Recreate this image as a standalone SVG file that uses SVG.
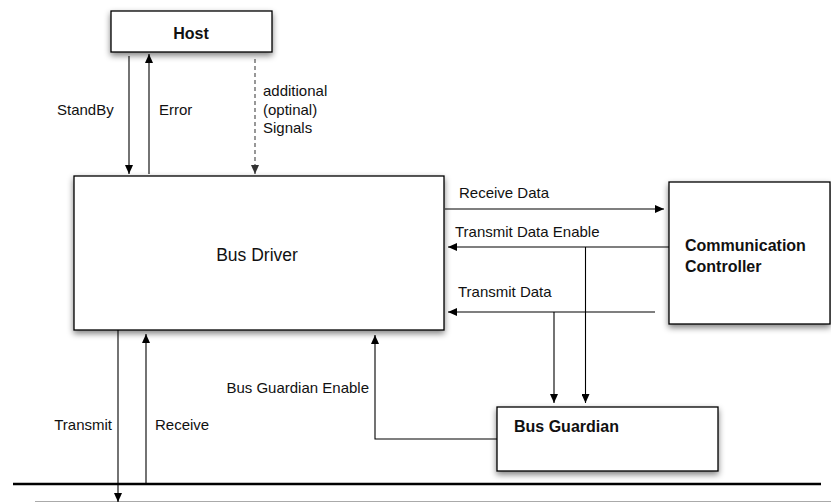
<svg xmlns="http://www.w3.org/2000/svg" width="831" height="502" viewBox="0 0 831 502">
  <style>
    .box { fill: #ffffff; stroke: #000000; stroke-width: 1.3; filter: url(#shadow); }
    .wire { fill: none; stroke: #000000; stroke-width: 1.1; }
    .arrow { marker-end: url(#head); }
    .dashed { fill: none; stroke: #444444; stroke-width: 1.1; stroke-dasharray: 4 3; marker-end: url(#headGray); }
    .lbl { font-family: "Liberation Sans", Arial, Helvetica, sans-serif; font-size: 15px; fill: #111111; }
    .title { font-family: "Liberation Sans", Arial, Helvetica, sans-serif; font-size: 16px; font-weight: bold; fill: #111111; }
    .big { font-family: "Liberation Sans", Arial, Helvetica, sans-serif; font-size: 17.5px; fill: #111111; }
  </style>
  <defs>
    <filter id="shadow" x="-10%" y="-20%" width="120%" height="150%">
      <feGaussianBlur in="SourceAlpha" stdDeviation="3"/>
      <feOffset dx="0" dy="3" result="blur"/>
      <feComponentTransfer><feFuncA type="linear" slope="0.5"/></feComponentTransfer>
      <feMerge><feMergeNode/><feMergeNode in="SourceGraphic"/></feMerge>
    </filter>
    <marker id="head" viewBox="0 0 9 8" refX="9" refY="4" markerWidth="9" markerHeight="8" markerUnits="userSpaceOnUse" orient="auto">
      <path d="M0,0 L9,4 L0,8 z" fill="#000000"/>
    </marker>
    <marker id="headGray" viewBox="0 0 9 8" refX="9" refY="4" markerWidth="9" markerHeight="8" markerUnits="userSpaceOnUse" orient="auto">
      <path d="M0,0 L9,4 L0,8 z" fill="#333333"/>
    </marker>
  </defs>

  <!-- bus cable -->
  <g id="bus">
    <line x1="13" y1="484" x2="821" y2="484" stroke="#000000" stroke-width="2.5"/>
    <line x1="35" y1="501.5" x2="831" y2="501.5" stroke="#aaaaaa" stroke-width="1"/>
  </g>

  <!-- connectors -->
  <g id="connectors">
    <line class="wire arrow" x1="129" y1="56" x2="129" y2="174"/>
    <line class="wire arrow" x1="149" y1="174" x2="149" y2="54"/>
    <line class="dashed" x1="255" y1="59" x2="255" y2="174"/>

    <line class="wire arrow" x1="445" y1="209" x2="664" y2="209"/>
    <line class="wire arrow" x1="669" y1="247" x2="448" y2="247"/>
    <line class="wire arrow" x1="655" y1="312" x2="448" y2="312"/>
    <line class="wire arrow" x1="585.5" y1="247" x2="585.5" y2="403"/>
    <line class="wire arrow" x1="554" y1="312" x2="554" y2="403"/>

    <polyline class="wire arrow" points="497,439 375,439 375,335"/>

    <line class="wire arrow" x1="118" y1="330" x2="118" y2="502"/>
    <line class="wire arrow" x1="146" y1="484" x2="146" y2="334"/>
  </g>

  <!-- connector labels -->
  <g id="labels">
    <text class="lbl" x="57" y="115">StandBy</text>
    <text class="lbl" x="159" y="115">Error</text>
    <text class="lbl" x="263" y="96">additional</text>
    <text class="lbl" x="263" y="115">(optinal)</text>
    <text class="lbl" x="263" y="133">Signals</text>
    <text class="lbl" x="459" y="198">Receive Data</text>
    <text class="lbl" x="455" y="237">Transmit Data Enable</text>
    <text class="lbl" x="458" y="297">Transmit Data</text>
    <text class="lbl" x="369" y="393" text-anchor="end">Bus Guardian Enable</text>
    <text class="lbl" x="112" y="430" text-anchor="end">Transmit</text>
    <text class="lbl" x="155" y="430">Receive</text>
  </g>

  <g id="host">
    <rect class="box" x="111" y="11" width="161" height="41"/>
    <text class="title" x="191" y="39" text-anchor="middle">Host</text>
  </g>

  <g id="bus-driver">
    <rect class="box" x="74" y="176" width="370" height="154"/>
    <text class="big" x="257" y="261" text-anchor="middle">Bus Driver</text>
  </g>

  <g id="communication-controller">
    <rect class="box" x="669" y="182" width="161" height="142"/>
    <text class="title" x="685" y="251">Communication</text>
    <text class="title" x="685" y="272">Controller</text>
  </g>

  <g id="bus-guardian">
    <rect class="box" x="497" y="407" width="221" height="64"/>
    <text class="title" x="514" y="432">Bus Guardian</text>
  </g>
</svg>
